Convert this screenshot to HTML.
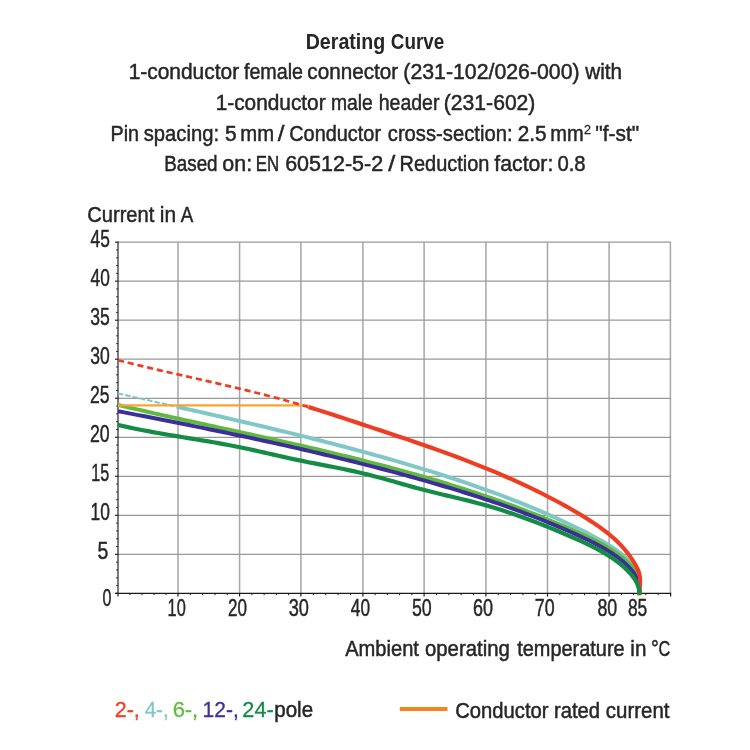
<!DOCTYPE html>
<html><head><meta charset="utf-8"><title>Derating Curve</title>
<style>html,body{margin:0;padding:0;background:#fff}body{width:750px;height:750px;overflow:hidden;font-family:"Liberation Sans",sans-serif}svg{display:block;will-change:transform}</style>
</head><body>
<svg width="750" height="750" viewBox="0 0 750 750">
<rect width="750" height="750" fill="#fff"/>
<g fill="none">
<line x1="178.00" y1="242.15" x2="178.00" y2="593.40" stroke="#a6a6a6" stroke-width="1.5"/>
<line x1="239.60" y1="242.15" x2="239.60" y2="593.40" stroke="#a6a6a6" stroke-width="1.5"/>
<line x1="300.90" y1="242.15" x2="300.90" y2="593.40" stroke="#a6a6a6" stroke-width="1.5"/>
<line x1="362.90" y1="242.15" x2="362.90" y2="593.40" stroke="#a6a6a6" stroke-width="1.5"/>
<line x1="424.10" y1="242.15" x2="424.10" y2="593.40" stroke="#a6a6a6" stroke-width="1.5"/>
<line x1="485.90" y1="242.15" x2="485.90" y2="593.40" stroke="#a6a6a6" stroke-width="1.5"/>
<line x1="547.50" y1="242.15" x2="547.50" y2="593.40" stroke="#a6a6a6" stroke-width="1.5"/>
<line x1="609.10" y1="242.15" x2="609.10" y2="593.40" stroke="#a6a6a6" stroke-width="1.5"/>
<line x1="670.40" y1="242.15" x2="670.40" y2="593.40" stroke="#a6a6a6" stroke-width="1.5"/>
<line x1="117.90" y1="554.37" x2="671.10" y2="554.37" stroke="#999999" stroke-width="1.25"/>
<line x1="117.90" y1="515.34" x2="671.10" y2="515.34" stroke="#999999" stroke-width="1.25"/>
<line x1="117.90" y1="476.32" x2="671.10" y2="476.32" stroke="#999999" stroke-width="1.25"/>
<line x1="117.90" y1="437.29" x2="671.10" y2="437.29" stroke="#999999" stroke-width="1.25"/>
<line x1="117.90" y1="398.26" x2="671.10" y2="398.26" stroke="#999999" stroke-width="1.25"/>
<line x1="117.90" y1="359.23" x2="671.10" y2="359.23" stroke="#999999" stroke-width="1.25"/>
<line x1="117.90" y1="320.21" x2="671.10" y2="320.21" stroke="#999999" stroke-width="1.25"/>
<line x1="117.90" y1="281.18" x2="671.10" y2="281.18" stroke="#999999" stroke-width="1.25"/>
<line x1="117.90" y1="242.15" x2="671.10" y2="242.15" stroke="#999999" stroke-width="1.25"/>
</g>
<line x1="118.0" y1="241.65" x2="118.0" y2="596.6" stroke="#757575" stroke-width="1.9"/>
<g stroke="#2a2a2a" fill="none">
<line x1="115.0" y1="593.40" x2="118.6" y2="593.40" stroke-width="1.2"/>
<line x1="116.0" y1="585.59" x2="118.2" y2="585.59" stroke-width="0.9"/>
<line x1="116.0" y1="577.79" x2="118.2" y2="577.79" stroke-width="0.9"/>
<line x1="116.0" y1="569.98" x2="118.2" y2="569.98" stroke-width="0.9"/>
<line x1="116.0" y1="562.18" x2="118.2" y2="562.18" stroke-width="0.9"/>
<line x1="115.0" y1="554.37" x2="118.6" y2="554.37" stroke-width="1.2"/>
<line x1="116.0" y1="546.57" x2="118.2" y2="546.57" stroke-width="0.9"/>
<line x1="116.0" y1="538.76" x2="118.2" y2="538.76" stroke-width="0.9"/>
<line x1="116.0" y1="530.96" x2="118.2" y2="530.96" stroke-width="0.9"/>
<line x1="116.0" y1="523.15" x2="118.2" y2="523.15" stroke-width="0.9"/>
<line x1="115.0" y1="515.34" x2="118.6" y2="515.34" stroke-width="1.2"/>
<line x1="116.0" y1="507.54" x2="118.2" y2="507.54" stroke-width="0.9"/>
<line x1="116.0" y1="499.73" x2="118.2" y2="499.73" stroke-width="0.9"/>
<line x1="116.0" y1="491.93" x2="118.2" y2="491.93" stroke-width="0.9"/>
<line x1="116.0" y1="484.12" x2="118.2" y2="484.12" stroke-width="0.9"/>
<line x1="115.0" y1="476.32" x2="118.6" y2="476.32" stroke-width="1.2"/>
<line x1="116.0" y1="468.51" x2="118.2" y2="468.51" stroke-width="0.9"/>
<line x1="116.0" y1="460.71" x2="118.2" y2="460.71" stroke-width="0.9"/>
<line x1="116.0" y1="452.90" x2="118.2" y2="452.90" stroke-width="0.9"/>
<line x1="116.0" y1="445.09" x2="118.2" y2="445.09" stroke-width="0.9"/>
<line x1="115.0" y1="437.29" x2="118.6" y2="437.29" stroke-width="1.2"/>
<line x1="116.0" y1="429.48" x2="118.2" y2="429.48" stroke-width="0.9"/>
<line x1="116.0" y1="421.68" x2="118.2" y2="421.68" stroke-width="0.9"/>
<line x1="116.0" y1="413.87" x2="118.2" y2="413.87" stroke-width="0.9"/>
<line x1="116.0" y1="406.07" x2="118.2" y2="406.07" stroke-width="0.9"/>
<line x1="115.0" y1="398.26" x2="118.6" y2="398.26" stroke-width="1.2"/>
<line x1="116.0" y1="390.46" x2="118.2" y2="390.46" stroke-width="0.9"/>
<line x1="116.0" y1="382.65" x2="118.2" y2="382.65" stroke-width="0.9"/>
<line x1="116.0" y1="374.84" x2="118.2" y2="374.84" stroke-width="0.9"/>
<line x1="116.0" y1="367.04" x2="118.2" y2="367.04" stroke-width="0.9"/>
<line x1="115.0" y1="359.23" x2="118.6" y2="359.23" stroke-width="1.2"/>
<line x1="116.0" y1="351.43" x2="118.2" y2="351.43" stroke-width="0.9"/>
<line x1="116.0" y1="343.62" x2="118.2" y2="343.62" stroke-width="0.9"/>
<line x1="116.0" y1="335.82" x2="118.2" y2="335.82" stroke-width="0.9"/>
<line x1="116.0" y1="328.01" x2="118.2" y2="328.01" stroke-width="0.9"/>
<line x1="115.0" y1="320.21" x2="118.6" y2="320.21" stroke-width="1.2"/>
<line x1="116.0" y1="312.40" x2="118.2" y2="312.40" stroke-width="0.9"/>
<line x1="116.0" y1="304.59" x2="118.2" y2="304.59" stroke-width="0.9"/>
<line x1="116.0" y1="296.79" x2="118.2" y2="296.79" stroke-width="0.9"/>
<line x1="116.0" y1="288.98" x2="118.2" y2="288.98" stroke-width="0.9"/>
<line x1="115.0" y1="281.18" x2="118.6" y2="281.18" stroke-width="1.2"/>
<line x1="116.0" y1="273.37" x2="118.2" y2="273.37" stroke-width="0.9"/>
<line x1="116.0" y1="265.57" x2="118.2" y2="265.57" stroke-width="0.9"/>
<line x1="116.0" y1="257.76" x2="118.2" y2="257.76" stroke-width="0.9"/>
<line x1="116.0" y1="249.96" x2="118.2" y2="249.96" stroke-width="0.9"/>
<line x1="115.0" y1="242.15" x2="118.6" y2="242.15" stroke-width="1.2"/>
</g>
<g stroke="#1a1a1a" fill="none">
<line x1="115.2" y1="593.40" x2="671.2" y2="593.40" stroke-width="1.3"/>
<line x1="129.92" y1="593.40" x2="129.92" y2="595.20" stroke-width="1"/>
<line x1="141.94" y1="593.40" x2="141.94" y2="595.20" stroke-width="1"/>
<line x1="153.96" y1="593.40" x2="153.96" y2="595.20" stroke-width="1"/>
<line x1="165.98" y1="593.40" x2="165.98" y2="595.20" stroke-width="1"/>
<line x1="178.00" y1="593.40" x2="178.00" y2="596.60" stroke-width="1.2"/>
<line x1="190.32" y1="593.40" x2="190.32" y2="595.20" stroke-width="1"/>
<line x1="202.64" y1="593.40" x2="202.64" y2="595.20" stroke-width="1"/>
<line x1="214.96" y1="593.40" x2="214.96" y2="595.20" stroke-width="1"/>
<line x1="227.28" y1="593.40" x2="227.28" y2="595.20" stroke-width="1"/>
<line x1="239.60" y1="593.40" x2="239.60" y2="596.60" stroke-width="1.2"/>
<line x1="251.86" y1="593.40" x2="251.86" y2="595.20" stroke-width="1"/>
<line x1="264.12" y1="593.40" x2="264.12" y2="595.20" stroke-width="1"/>
<line x1="276.38" y1="593.40" x2="276.38" y2="595.20" stroke-width="1"/>
<line x1="288.64" y1="593.40" x2="288.64" y2="595.20" stroke-width="1"/>
<line x1="300.90" y1="593.40" x2="300.90" y2="596.60" stroke-width="1.2"/>
<line x1="313.30" y1="593.40" x2="313.30" y2="595.20" stroke-width="1"/>
<line x1="325.70" y1="593.40" x2="325.70" y2="595.20" stroke-width="1"/>
<line x1="338.10" y1="593.40" x2="338.10" y2="595.20" stroke-width="1"/>
<line x1="350.50" y1="593.40" x2="350.50" y2="595.20" stroke-width="1"/>
<line x1="362.90" y1="593.40" x2="362.90" y2="596.60" stroke-width="1.2"/>
<line x1="375.14" y1="593.40" x2="375.14" y2="595.20" stroke-width="1"/>
<line x1="387.38" y1="593.40" x2="387.38" y2="595.20" stroke-width="1"/>
<line x1="399.62" y1="593.40" x2="399.62" y2="595.20" stroke-width="1"/>
<line x1="411.86" y1="593.40" x2="411.86" y2="595.20" stroke-width="1"/>
<line x1="424.10" y1="593.40" x2="424.10" y2="596.60" stroke-width="1.2"/>
<line x1="436.46" y1="593.40" x2="436.46" y2="595.20" stroke-width="1"/>
<line x1="448.82" y1="593.40" x2="448.82" y2="595.20" stroke-width="1"/>
<line x1="461.18" y1="593.40" x2="461.18" y2="595.20" stroke-width="1"/>
<line x1="473.54" y1="593.40" x2="473.54" y2="595.20" stroke-width="1"/>
<line x1="485.90" y1="593.40" x2="485.90" y2="596.60" stroke-width="1.2"/>
<line x1="498.22" y1="593.40" x2="498.22" y2="595.20" stroke-width="1"/>
<line x1="510.54" y1="593.40" x2="510.54" y2="595.20" stroke-width="1"/>
<line x1="522.86" y1="593.40" x2="522.86" y2="595.20" stroke-width="1"/>
<line x1="535.18" y1="593.40" x2="535.18" y2="595.20" stroke-width="1"/>
<line x1="547.50" y1="593.40" x2="547.50" y2="596.60" stroke-width="1.2"/>
<line x1="559.82" y1="593.40" x2="559.82" y2="595.20" stroke-width="1"/>
<line x1="572.14" y1="593.40" x2="572.14" y2="595.20" stroke-width="1"/>
<line x1="584.46" y1="593.40" x2="584.46" y2="595.20" stroke-width="1"/>
<line x1="596.78" y1="593.40" x2="596.78" y2="595.20" stroke-width="1"/>
<line x1="609.10" y1="593.40" x2="609.10" y2="596.60" stroke-width="1.2"/>
<line x1="621.36" y1="593.40" x2="621.36" y2="595.20" stroke-width="1"/>
<line x1="633.62" y1="593.40" x2="633.62" y2="595.20" stroke-width="1"/>
<line x1="645.88" y1="593.40" x2="645.88" y2="595.20" stroke-width="1"/>
<line x1="658.14" y1="593.40" x2="658.14" y2="595.20" stroke-width="1"/>
<line x1="670.60" y1="593.40" x2="670.60" y2="596.60" stroke-width="1.2"/>
</g>
<g fill="none" stroke-linejoin="round">
<path d="M117.88 393.36 L123.00 394.53 L128.11 395.69 L133.23 396.86 L138.34 398.02 L143.46 399.18 L148.58 400.34 L153.69 401.49 L158.81 402.65 L163.93 403.80 L169.04 404.96 L174.16 406.11 L176.50 406.64" stroke="#80c8c7" stroke-width="2" stroke-dasharray="5.5 2"/>
<path d="M176.50 406.64 L179.28 407.27 L184.39 408.43 L189.51 409.59 L194.63 410.74 L199.74 411.90 L204.86 413.07 L209.97 414.23 L215.08 415.40 L220.20 416.57 L225.31 417.74 L230.42 418.92 L235.53 420.10 L240.64 421.28 L245.74 422.47 L250.85 423.67 L255.96 424.86 L261.06 426.07 L266.16 427.28 L271.26 428.49 L276.36 429.71 L281.46 430.94 L286.56 432.17 L291.65 433.41 L296.75 434.66 L301.84 435.92 L306.93 437.18 L312.01 438.45 L317.10 439.73 L322.18 441.02 L327.26 442.32 L332.34 443.63 L337.41 444.94 L342.49 446.27 L347.56 447.61 L352.62 448.96 L357.69 450.32 L362.75 451.69 L367.81 453.07 L372.87 454.46 L377.92 455.86 L382.97 457.28 L388.02 458.71 L393.06 460.16 L398.10 461.61 L403.14 463.08 L408.18 464.57 L413.21 466.06 L418.23 467.58 L423.26 469.10 L428.28 470.64 L433.29 472.20 L438.31 473.78 L443.31 475.37 L448.31 476.98 L453.31 478.60 L458.30 480.25 L463.28 481.91 L468.25 483.60 L473.22 485.30 L478.18 487.03 L483.13 488.78 L488.07 490.55 L493.00 492.34 L497.92 494.16 L502.83 496.00 L507.73 497.87 L512.62 499.76 L517.50 501.68 L522.36 503.62 L527.22 505.60 L532.05 507.60 L536.88 509.63 L541.69 511.69 L546.49 513.78 L551.27 515.90 L556.04 518.05 L560.79 520.24 L565.52 522.45 L570.24 524.70 L574.94 526.98 L579.62 529.30 L584.28 531.65 L588.93 534.05 L593.55 536.49 L598.15 539.00 L602.73 541.59 L607.28 544.26 L611.80 547.03 L612.21 547.29 L612.62 547.56 L613.04 547.82 L613.45 548.09 L613.86 548.36 L614.27 548.63 L614.68 548.90 L615.08 549.17 L615.49 549.44 L615.89 549.72 L616.30 550.00 L616.70 550.28 L617.10 550.56 L617.50 550.84 L617.89 551.13 L618.29 551.41 L618.68 551.70 L619.07 552.00 L619.46 552.29 L619.85 552.59 L620.23 552.88 L620.62 553.18 L621.00 553.49 L621.37 553.79 L621.75 554.10 L622.12 554.41 L622.49 554.72 L622.86 555.04 L623.23 555.36 L623.59 555.68 L623.95 556.00 L624.31 556.33 L624.66 556.66 L625.01 556.99 L625.36 557.33 L625.70 557.67 L626.04 558.01 L626.38 558.35 L626.72 558.70 L627.05 559.05 L627.37 559.41 L627.70 559.77 L628.02 560.13 L628.33 560.49 L628.65 560.86 L628.96 561.23 L629.26 561.61 L629.56 561.98 L629.86 562.36 L630.16 562.75 L630.45 563.13 L630.73 563.52 L631.01 563.91 L631.29 564.31 L631.57 564.71 L631.84 565.11 L632.10 565.51 L632.36 565.92 L632.62 566.32 L632.87 566.74 L633.12 567.15 L633.37 567.57 L633.61 567.99 L633.84 568.41 L634.07 568.83 L634.30 569.26 L634.52 569.69 L634.74 570.12 L634.95 570.55 L635.16 570.99 L635.37 571.43 L635.57 571.87 L635.76 572.31 L635.95 572.76 L636.14 573.21 L636.32 573.66 L636.49 574.11 L636.66 574.56 L636.83 575.02 L636.99 575.48 L637.14 575.94 L637.29 576.40 L637.44 576.86 L637.58 577.33 L637.71 577.80 L637.84 578.27 L637.97 578.74 L638.09 579.21 L638.20 579.68 L638.31 580.16 L638.42 580.64 L638.52 581.11 L638.61 581.59 L638.70 582.07 L638.79 582.55 L638.87 583.03 L638.94 583.52 L639.02 584.00 L639.08 584.48 L639.14 584.97 L639.20 585.45 L639.25 585.94 L639.29 586.43 L639.34 586.91 L639.37 587.40 L639.40 587.89 L639.43 588.38 L639.45 588.86 L639.47 589.35 L639.48 589.84 L639.49 590.33 L639.49 590.82 L639.49 591.30 L639.48 591.79 L639.47 592.28 L639.45 592.76 L639.43 593.25 L639.40 593.74 L639.37 594.22" stroke="#80c8c7" stroke-width="4"/>
<path d="M118.03 404.97 L123.07 406.15 L128.11 407.33 L133.16 408.49 L138.21 409.65 L143.26 410.80 L148.32 411.95 L153.38 413.09 L158.44 414.22 L163.50 415.36 L168.57 416.48 L173.64 417.60 L178.71 418.72 L183.78 419.84 L188.85 420.95 L193.93 422.06 L199.01 423.17 L204.08 424.28 L209.16 425.39 L214.24 426.49 L219.32 427.60 L224.40 428.70 L229.48 429.81 L234.56 430.91 L239.65 432.02 L244.73 433.13 L249.81 434.24 L254.89 435.36 L259.97 436.48 L265.05 437.60 L270.13 438.72 L275.21 439.85 L280.29 440.98 L285.37 442.12 L290.44 443.26 L295.52 444.41 L300.59 445.57 L305.66 446.73 L310.73 447.89 L315.79 449.07 L320.86 450.25 L325.92 451.45 L330.98 452.65 L336.04 453.85 L341.10 455.07 L346.15 456.30 L351.20 457.54 L356.24 458.79 L361.28 460.05 L366.32 461.32 L371.36 462.60 L376.39 463.90 L381.42 465.20 L386.44 466.52 L391.46 467.86 L396.48 469.21 L401.49 470.57 L406.50 471.94 L411.50 473.34 L416.50 474.74 L421.49 476.17 L426.47 477.60 L431.46 479.06 L436.43 480.53 L441.40 482.02 L446.37 483.53 L451.33 485.05 L456.28 486.60 L461.23 488.16 L466.17 489.75 L471.10 491.35 L476.03 492.97 L480.95 494.61 L485.86 496.28 L490.77 497.97 L495.67 499.67 L500.56 501.40 L505.45 503.16 L510.32 504.93 L515.19 506.73 L520.05 508.55 L524.91 510.40 L529.75 512.27 L534.59 514.17 L539.42 516.09 L544.24 518.04 L549.05 520.01 L553.85 522.02 L558.64 524.04 L563.43 526.10 L568.20 528.18 L572.97 530.30 L577.72 532.44 L582.47 534.61 L587.20 536.81 L591.91 539.06 L596.57 541.39 L601.18 543.81 L605.71 546.34 L610.16 549.00 L610.56 549.25 L610.97 549.51 L611.37 549.76 L611.77 550.02 L612.17 550.28 L612.58 550.54 L612.97 550.80 L613.37 551.07 L613.77 551.33 L614.17 551.60 L614.56 551.87 L614.96 552.14 L615.35 552.41 L615.75 552.68 L616.14 552.95 L616.53 553.23 L616.92 553.50 L617.31 553.78 L617.69 554.06 L618.08 554.35 L618.46 554.63 L618.85 554.91 L619.23 555.20 L619.61 555.49 L619.99 555.78 L620.37 556.07 L620.75 556.37 L621.12 556.66 L621.50 556.96 L621.87 557.26 L622.25 557.56 L622.62 557.86 L622.99 558.17 L623.36 558.47 L623.72 558.78 L624.09 559.09 L624.45 559.40 L624.82 559.72 L625.18 560.03 L625.54 560.35 L625.90 560.67 L626.26 560.99 L626.61 561.32 L626.97 561.64 L627.32 561.97 L627.67 562.30 L628.02 562.63 L628.37 562.97 L628.72 563.30 L629.06 563.64 L629.40 563.98 L629.74 564.33 L630.08 564.68 L630.41 565.03 L630.73 565.38 L631.05 565.74 L631.37 566.10 L631.68 566.47 L631.99 566.84 L632.28 567.22 L632.57 567.60 L632.86 567.98 L633.13 568.37 L633.40 568.77 L633.66 569.17 L633.91 569.58 L634.16 569.99 L634.39 570.41 L634.62 570.83 L634.84 571.26 L635.05 571.69 L635.25 572.13 L635.45 572.57 L635.64 573.01 L635.83 573.46 L636.00 573.91 L636.18 574.36 L636.34 574.82 L636.50 575.28 L636.66 575.74 L636.81 576.20 L636.96 576.66 L637.10 577.12 L637.24 577.59 L637.38 578.05 L637.51 578.52 L637.64 578.98 L637.76 579.45 L637.88 579.92 L638.00 580.39 L638.11 580.85 L638.22 581.32 L638.32 581.79 L638.42 582.26 L638.52 582.73 L638.61 583.21 L638.69 583.68 L638.78 584.15 L638.85 584.62 L638.93 585.10 L639.00 585.57 L639.06 586.05 L639.12 586.52 L639.18 587.00 L639.23 587.47 L639.27 587.95 L639.31 588.43 L639.35 588.91 L639.38 589.39 L639.40 589.86 L639.42 590.34 L639.44 590.82 L639.45 591.30 L639.46 591.79 L639.46 592.27 L639.45 592.75 L639.44 593.23 L639.42 593.71 L639.40 594.20" stroke="#5fbb3f" stroke-width="4"/>
<path d="M117.96 411.18 L123.01 412.15 L128.07 413.13 L133.12 414.11 L138.18 415.09 L143.24 416.07 L148.30 417.06 L153.35 418.05 L158.41 419.04 L163.47 420.04 L168.53 421.04 L173.59 422.04 L178.65 423.05 L183.71 424.06 L188.77 425.07 L193.83 426.09 L198.89 427.12 L203.95 428.15 L209.01 429.18 L214.07 430.22 L219.13 431.26 L224.19 432.31 L229.24 433.37 L234.30 434.43 L239.35 435.50 L244.41 436.57 L249.46 437.65 L254.51 438.73 L259.56 439.83 L264.61 440.93 L269.66 442.03 L274.70 443.14 L279.75 444.26 L284.79 445.39 L289.83 446.53 L294.87 447.67 L299.91 448.82 L304.94 449.98 L309.98 451.15 L315.01 452.33 L320.04 453.51 L325.06 454.70 L330.09 455.91 L335.11 457.12 L340.12 458.34 L345.14 459.57 L350.15 460.81 L355.16 462.06 L360.17 463.32 L365.17 464.59 L370.17 465.87 L375.17 467.17 L380.16 468.47 L385.15 469.78 L390.14 471.11 L395.12 472.44 L400.10 473.79 L405.08 475.15 L410.05 476.52 L415.02 477.90 L419.98 479.30 L424.94 480.70 L429.89 482.12 L434.84 483.56 L439.79 485.00 L444.73 486.47 L449.66 487.94 L454.59 489.44 L459.52 490.95 L464.44 492.47 L469.35 494.02 L474.26 495.59 L479.16 497.17 L484.05 498.78 L488.94 500.40 L493.82 502.05 L498.69 503.73 L503.56 505.42 L508.42 507.14 L513.27 508.89 L518.11 510.66 L522.94 512.45 L527.77 514.28 L532.59 516.13 L537.40 518.01 L542.20 519.92 L546.99 521.86 L551.77 523.83 L556.54 525.83 L561.30 527.86 L566.05 529.93 L570.79 532.03 L575.52 534.16 L580.24 536.33 L584.95 538.54 L589.64 540.79 L594.29 543.11 L598.89 545.52 L603.41 548.02 L607.85 550.66 L608.26 550.91 L608.66 551.16 L609.06 551.41 L609.47 551.67 L609.87 551.92 L610.27 552.18 L610.67 552.44 L611.07 552.70 L611.46 552.96 L611.86 553.22 L612.26 553.48 L612.65 553.75 L613.04 554.01 L613.44 554.28 L613.83 554.55 L614.22 554.82 L614.61 555.09 L614.99 555.37 L615.38 555.64 L615.77 555.92 L616.15 556.19 L616.54 556.47 L616.92 556.76 L617.30 557.04 L617.68 557.32 L618.06 557.61 L618.43 557.90 L618.81 558.18 L619.19 558.48 L619.56 558.77 L619.93 559.06 L620.30 559.36 L620.67 559.66 L621.04 559.95 L621.41 560.26 L621.77 560.56 L622.14 560.86 L622.50 561.17 L622.86 561.48 L623.22 561.79 L623.58 562.10 L623.94 562.41 L624.29 562.73 L624.65 563.04 L625.00 563.36 L625.35 563.68 L625.70 564.01 L626.05 564.33 L626.40 564.66 L626.74 564.99 L627.08 565.32 L627.43 565.65 L627.77 565.99 L628.11 566.32 L628.44 566.66 L628.78 567.00 L629.11 567.35 L629.44 567.69 L629.77 568.04 L630.09 568.39 L630.42 568.75 L630.73 569.10 L631.05 569.46 L631.36 569.82 L631.67 570.19 L631.97 570.56 L632.27 570.93 L632.56 571.30 L632.85 571.68 L633.13 572.06 L633.41 572.45 L633.68 572.84 L633.95 573.23 L634.21 573.63 L634.46 574.03 L634.71 574.44 L634.95 574.84 L635.19 575.26 L635.41 575.67 L635.63 576.09 L635.85 576.52 L636.06 576.95 L636.26 577.38 L636.45 577.81 L636.64 578.25 L636.82 578.69 L637.00 579.13 L637.17 579.58 L637.33 580.03 L637.48 580.48 L637.63 580.94 L637.77 581.40 L637.91 581.86 L638.04 582.32 L638.16 582.79 L638.28 583.25 L638.39 583.72 L638.49 584.19 L638.59 584.67 L638.68 585.14 L638.76 585.62 L638.84 586.09 L638.92 586.57 L638.99 587.05 L639.05 587.53 L639.10 588.01 L639.16 588.49 L639.20 588.97 L639.24 589.45 L639.28 589.92 L639.31 590.40 L639.34 590.88 L639.36 591.36 L639.37 591.84 L639.38 592.32 L639.39 592.79 L639.39 593.27 L639.39 593.74 L639.38 594.21" stroke="#3c2f9a" stroke-width="4"/>
<line x1="117.9" y1="405.4" x2="308.2" y2="405.4" stroke="#f6a533" stroke-width="2.2"/>
<path d="M117.93 360.20 L123.17 361.52 L128.42 362.81 L133.68 364.09 L138.94 365.36 L144.20 366.61 L149.47 367.86 L154.75 369.09 L160.03 370.31 L165.31 371.53 L170.59 372.74 L175.88 373.95 L181.17 375.15 L186.46 376.35 L191.75 377.55 L197.04 378.75 L202.33 379.96 L207.62 381.17 L212.91 382.38 L218.20 383.60 L223.48 384.83 L228.76 386.07 L234.04 387.32 L239.32 388.58 L244.59 389.85 L249.86 391.14 L255.12 392.45 L260.38 393.77 L265.63 395.11 L270.87 396.48 L276.11 397.86 L281.33 399.27 L286.55 400.71 L291.77 402.17 L296.97 403.65 L302.16 405.17 L307.35 406.72 L308.50 407.07" stroke="#ee3d23" stroke-width="2.7" stroke-dasharray="6.2 3.8"/>
<path d="M308.50 407.07 L312.52 408.29 L317.69 409.88 L322.85 411.50 L328.00 413.14 L333.15 414.80 L338.30 416.47 L343.44 418.15 L348.58 419.84 L353.72 421.53 L358.87 423.24 L364.01 424.94 L369.15 426.64 L374.30 428.35 L379.45 430.06 L384.59 431.77 L389.74 433.49 L394.88 435.21 L400.03 436.94 L405.17 438.68 L410.31 440.43 L415.44 442.19 L420.57 443.96 L425.70 445.74 L430.82 447.54 L435.94 449.36 L441.05 451.19 L446.15 453.03 L451.24 454.90 L456.33 456.79 L461.40 458.69 L466.47 460.62 L471.52 462.58 L476.57 464.55 L481.60 466.56 L486.63 468.59 L491.64 470.64 L496.63 472.73 L501.61 474.85 L506.58 477.00 L511.54 479.18 L516.47 481.40 L521.39 483.65 L526.30 485.93 L531.18 488.26 L536.05 490.62 L540.90 493.02 L545.73 495.46 L550.54 497.95 L555.33 500.48 L560.10 503.05 L564.85 505.66 L569.57 508.33 L574.28 511.04 L578.95 513.80 L583.61 516.61 L588.23 519.48 L592.81 522.41 L597.31 525.44 L601.74 528.58 L606.07 531.83 L610.27 535.23 L614.34 538.78 L618.25 542.50 L618.60 542.86 L618.95 543.21 L619.30 543.57 L619.65 543.93 L620.00 544.29 L620.34 544.65 L620.69 545.01 L621.03 545.38 L621.37 545.75 L621.71 546.11 L622.05 546.48 L622.38 546.86 L622.72 547.23 L623.05 547.60 L623.38 547.98 L623.71 548.36 L624.04 548.74 L624.36 549.12 L624.69 549.50 L625.01 549.88 L625.33 550.27 L625.65 550.66 L625.97 551.04 L626.28 551.44 L626.60 551.83 L626.91 552.22 L627.22 552.61 L627.53 553.01 L627.84 553.41 L628.14 553.81 L628.45 554.21 L628.75 554.61 L629.05 555.02 L629.34 555.42 L629.64 555.83 L629.93 556.24 L630.23 556.65 L630.52 557.06 L630.81 557.47 L631.09 557.89 L631.38 558.30 L631.66 558.72 L631.94 559.14 L632.22 559.56 L632.50 559.98 L632.77 560.40 L633.04 560.83 L633.32 561.25 L633.58 561.68 L633.85 562.11 L634.12 562.54 L634.38 562.97 L634.64 563.41 L634.89 563.84 L635.15 564.28 L635.40 564.72 L635.64 565.15 L635.89 565.60 L636.12 566.04 L636.36 566.48 L636.59 566.93 L636.81 567.38 L637.03 567.83 L637.24 568.28 L637.45 568.73 L637.65 569.19 L637.85 569.64 L638.04 570.10 L638.22 570.56 L638.40 571.03 L638.57 571.49 L638.73 571.96 L638.88 572.43 L639.03 572.90 L639.17 573.37 L639.30 573.84 L639.42 574.32 L639.53 574.80 L639.64 575.28 L639.73 575.76 L639.82 576.25 L639.89 576.73 L639.96 577.22 L640.01 577.71 L640.06 578.21 L640.09 578.70 L640.12 579.20 L640.13 579.70 L640.14 580.20 L640.14 580.71 L640.13 581.21 L640.12 581.72 L640.10 582.22 L640.07 582.73 L640.04 583.24 L640.01 583.75 L639.97 584.26 L639.93 584.77 L639.89 585.28 L639.84 585.79 L639.79 586.30 L639.75 586.81 L639.70 587.32 L639.66 587.83 L639.61 588.34 L639.57 588.85 L639.53 589.35 L639.49 589.86 L639.46 590.36 L639.43 590.87 L639.40 591.37 L639.39 591.87 L639.37 592.36 L639.37 592.86 L639.37 593.35 L639.38 593.85 L639.40 594.33 L639.43 594.82 L639.46 595.30" stroke="#ee3d23" stroke-width="4.1"/>
<path d="M117.90 424.90 L122.88 426.04 L127.87 427.14 L132.86 428.20 L137.87 429.22 L142.88 430.20 L147.90 431.15 L152.92 432.08 L157.95 432.98 L162.98 433.86 L168.01 434.72 L173.05 435.57 L178.09 436.41 L183.13 437.24 L188.17 438.08 L193.21 438.91 L198.25 439.74 L203.29 440.58 L208.32 441.43 L213.35 442.30 L218.38 443.19 L223.41 444.09 L228.43 445.02 L233.44 445.98 L238.45 446.97 L243.45 448.00 L248.44 449.06 L253.43 450.14 L258.42 451.25 L263.40 452.36 L268.38 453.49 L273.36 454.62 L278.34 455.76 L283.32 456.88 L288.31 457.99 L293.30 459.08 L298.29 460.14 L303.30 461.18 L308.30 462.19 L313.32 463.17 L318.33 464.14 L323.35 465.11 L328.36 466.07 L333.38 467.04 L338.39 468.02 L343.40 469.03 L348.40 470.07 L353.39 471.14 L358.37 472.25 L363.34 473.42 L368.29 474.64 L373.24 475.91 L378.17 477.23 L383.10 478.57 L388.02 479.94 L392.94 481.33 L397.85 482.72 L402.77 484.12 L407.68 485.51 L412.60 486.88 L417.53 488.23 L422.46 489.55 L427.40 490.83 L432.35 492.07 L437.30 493.28 L442.26 494.47 L447.22 495.65 L452.19 496.83 L457.15 498.01 L462.12 499.20 L467.08 500.41 L472.03 501.65 L476.98 502.93 L481.92 504.25 L486.85 505.62 L491.77 507.05 L496.68 508.54 L501.57 510.07 L506.45 511.66 L511.31 513.29 L516.16 514.97 L521.00 516.69 L525.81 518.44 L530.61 520.23 L535.38 522.04 L540.14 523.89 L544.88 525.76 L549.59 527.65 L554.28 529.56 L558.95 531.49 L563.61 533.46 L568.26 535.46 L572.90 537.49 L577.53 539.57 L582.16 541.70 L586.79 543.88 L591.40 546.12 L595.98 548.46 L600.50 550.89 L604.95 553.44 L605.36 553.68 L605.77 553.93 L606.17 554.17 L606.58 554.42 L606.98 554.67 L607.38 554.92 L607.79 555.16 L608.19 555.42 L608.59 555.67 L608.99 555.92 L609.39 556.18 L609.78 556.43 L610.18 556.69 L610.58 556.95 L610.97 557.21 L611.37 557.47 L611.76 557.73 L612.15 558.00 L612.54 558.26 L612.93 558.53 L613.32 558.80 L613.71 559.07 L614.09 559.34 L614.48 559.61 L614.86 559.89 L615.24 560.17 L615.63 560.44 L616.01 560.72 L616.39 561.00 L616.77 561.28 L617.14 561.57 L617.52 561.85 L617.89 562.14 L618.27 562.43 L618.64 562.72 L619.01 563.01 L619.38 563.30 L619.75 563.60 L620.11 563.90 L620.48 564.19 L620.84 564.49 L621.21 564.80 L621.57 565.10 L621.93 565.40 L622.29 565.71 L622.64 566.02 L623.00 566.33 L623.35 566.64 L623.71 566.96 L624.06 567.27 L624.41 567.59 L624.76 567.91 L625.10 568.23 L625.45 568.55 L625.79 568.88 L626.13 569.21 L626.48 569.54 L626.81 569.87 L627.15 570.20 L627.49 570.53 L627.82 570.87 L628.15 571.21 L628.48 571.55 L628.81 571.89 L629.14 572.24 L629.46 572.59 L629.78 572.94 L630.10 573.29 L630.42 573.64 L630.73 574.00 L631.04 574.36 L631.34 574.72 L631.65 575.08 L631.95 575.45 L632.24 575.81 L632.53 576.18 L632.82 576.56 L633.11 576.93 L633.39 577.31 L633.66 577.69 L633.93 578.07 L634.20 578.46 L634.46 578.85 L634.71 579.24 L634.97 579.63 L635.21 580.03 L635.45 580.43 L635.69 580.83 L635.92 581.24 L636.14 581.65 L636.36 582.06 L636.57 582.47 L636.78 582.89 L636.98 583.31 L637.17 583.73 L637.36 584.16 L637.54 584.59 L637.71 585.02 L637.88 585.46 L638.04 585.90 L638.19 586.34 L638.33 586.79 L638.47 587.24 L638.60 587.69 L638.72 588.14 L638.83 588.60 L638.94 589.07 L639.03 589.53 L639.12 590.00 L639.20 590.47 L639.27 590.95 L639.33 591.43 L639.39 591.91 L639.43 592.39 L639.47 592.88 L639.49 593.38 L639.51 593.87 L639.51 594.37 L639.51 594.87" stroke="#148c46" stroke-width="4.2"/>
</g>
<g font-family="'Liberation Sans', sans-serif" xml:space="preserve" style="font-kerning:none">
<text transform="translate(305.69 48.50) scale(0.9088 1)" font-size="21.60" font-weight="bold" fill="#262626" stroke="#262626" stroke-width="0.00" >Derating</text>
<text transform="translate(390.83 48.50) scale(0.8725 1)" font-size="21.60" font-weight="bold" fill="#262626" stroke="#262626" stroke-width="0.00" >Curve</text>
<text transform="translate(128.64 79.40) scale(0.9176 1)" font-size="22.80" font-weight="normal" fill="#262626" stroke="#262626" stroke-width="0.50" >1-conductor</text>
<text transform="translate(243.94 79.40) scale(0.8639 1)" font-size="22.80" font-weight="normal" fill="#262626" stroke="#262626" stroke-width="0.50" >female</text>
<text transform="translate(307.35 79.40) scale(0.9065 1)" font-size="22.80" font-weight="normal" fill="#262626" stroke="#262626" stroke-width="0.50" >connector</text>
<text transform="translate(403.31 79.40) scale(0.9338 1)" font-size="22.80" font-weight="normal" fill="#262626" stroke="#262626" stroke-width="0.50" >(231-102/026-000)</text>
<text transform="translate(585.26 79.40) scale(0.9091 1)" font-size="22.80" font-weight="normal" fill="#262626" stroke="#262626" stroke-width="0.50" >with</text>
<text transform="translate(215.64 110.00) scale(0.9142 1)" font-size="22.80" font-weight="normal" fill="#262626" stroke="#262626" stroke-width="0.50" >1-conductor</text>
<text transform="translate(330.93 110.00) scale(0.8482 1)" font-size="22.80" font-weight="normal" fill="#262626" stroke="#262626" stroke-width="0.50" >male</text>
<text transform="translate(378.66 110.00) scale(0.8571 1)" font-size="22.80" font-weight="normal" fill="#262626" stroke="#262626" stroke-width="0.50" >header</text>
<text transform="translate(443.82 110.00) scale(0.9271 1)" font-size="22.80" font-weight="normal" fill="#262626" stroke="#262626" stroke-width="0.50" >(231-602)</text>
<text transform="translate(110.60 141.00) scale(0.8637 1)" font-size="22.80" font-weight="normal" fill="#262626" stroke="#262626" stroke-width="0.50" >Pin</text>
<text transform="translate(143.66 141.00) scale(0.8875 1)" font-size="22.80" font-weight="normal" fill="#262626" stroke="#262626" stroke-width="0.50" >spacing:</text>
<text transform="translate(224.99 141.00) scale(0.9194 1)" font-size="22.80" font-weight="normal" fill="#262626" stroke="#262626" stroke-width="0.50" >5</text>
<text transform="translate(240.27 141.00) scale(0.8909 1)" font-size="22.80" font-weight="normal" fill="#262626" stroke="#262626" stroke-width="0.50" >mm</text>
<text transform="translate(277.66 141.00) scale(1.0531 1)" font-size="22.80" font-weight="normal" fill="#262626" stroke="#262626" stroke-width="0.50" >/</text>
<text transform="translate(289.21 141.00) scale(0.8737 1)" font-size="22.80" font-weight="normal" fill="#262626" stroke="#262626" stroke-width="0.50" >Conductor</text>
<text transform="translate(387.76 141.00) scale(0.8878 1)" font-size="22.80" font-weight="normal" fill="#262626" stroke="#262626" stroke-width="0.50" >cross-section:</text>
<text transform="translate(517.78 141.00) scale(0.9105 1)" font-size="22.80" font-weight="normal" fill="#262626" stroke="#262626" stroke-width="0.50" >2.5</text>
<text transform="translate(550.29 141.00) scale(0.8796 1)" font-size="22.80" font-weight="normal" fill="#262626" stroke="#262626" stroke-width="0.50" >mm</text>
<text transform="translate(595.34 141.00) scale(0.9178 1)" font-size="22.80" font-weight="normal" fill="#262626" stroke="#262626" stroke-width="0.50" >&quot;f-st&quot;</text>
<text transform="translate(584.11 133.80) scale(0.9368 1)" font-size="13.40" font-weight="normal" fill="#262626" stroke="#262626" stroke-width="0.30" >2</text>
<text transform="translate(164.26 171.30) scale(0.8251 1)" font-size="22.80" font-weight="normal" fill="#262626" stroke="#262626" stroke-width="0.50" >Based</text>
<text transform="translate(222.34 171.30) scale(0.9397 1)" font-size="22.80" font-weight="normal" fill="#262626" stroke="#262626" stroke-width="0.50" >on:</text>
<text transform="translate(255.80 171.30) scale(0.7383 1)" font-size="22.80" font-weight="normal" fill="#262626" stroke="#262626" stroke-width="0.50" >EN</text>
<text transform="translate(285.14 171.30) scale(0.9438 1)" font-size="22.80" font-weight="normal" fill="#262626" stroke="#262626" stroke-width="0.50" >60512-5-2</text>
<text transform="translate(388.28 171.30) scale(1.1116 1)" font-size="22.80" font-weight="normal" fill="#262626" stroke="#262626" stroke-width="0.50" >/</text>
<text transform="translate(399.58 171.30) scale(0.8756 1)" font-size="22.80" font-weight="normal" fill="#262626" stroke="#262626" stroke-width="0.50" >Reduction</text>
<text transform="translate(494.33 171.30) scale(0.9308 1)" font-size="22.80" font-weight="normal" fill="#262626" stroke="#262626" stroke-width="0.50" >factor:</text>
<text transform="translate(557.43 171.30) scale(0.8906 1)" font-size="22.80" font-weight="normal" fill="#262626" stroke="#262626" stroke-width="0.50" >0.8</text>
<text transform="translate(87.20 221.70) scale(0.8829 1)" font-size="22.80" font-weight="normal" fill="#262626" stroke="#262626" stroke-width="0.50" >Current</text>
<text transform="translate(159.83 221.70) scale(0.9185 1)" font-size="22.80" font-weight="normal" fill="#262626" stroke="#262626" stroke-width="0.50" >in</text>
<text transform="translate(180.77 221.70) scale(0.8194 1)" font-size="22.80" font-weight="normal" fill="#262626" stroke="#262626" stroke-width="0.50" >A</text>
<text transform="translate(90.57 247.05) scale(0.7412 1)" font-size="23.40" font-weight="normal" fill="#262626" stroke="#262626" stroke-width="0.45" >45</text>
<text transform="translate(90.57 286.08) scale(0.7392 1)" font-size="23.40" font-weight="normal" fill="#262626" stroke="#262626" stroke-width="0.45" >40</text>
<text transform="translate(90.20 325.11) scale(0.7519 1)" font-size="23.40" font-weight="normal" fill="#262626" stroke="#262626" stroke-width="0.45" >35</text>
<text transform="translate(90.20 364.13) scale(0.7498 1)" font-size="23.40" font-weight="normal" fill="#262626" stroke="#262626" stroke-width="0.45" >30</text>
<text transform="translate(89.98 403.16) scale(0.7525 1)" font-size="23.40" font-weight="normal" fill="#262626" stroke="#262626" stroke-width="0.45" >25</text>
<text transform="translate(89.98 442.19) scale(0.7586 1)" font-size="23.40" font-weight="normal" fill="#262626" stroke="#262626" stroke-width="0.45" >20</text>
<text transform="translate(91.32 481.22) scale(0.6916 1)" font-size="23.40" font-weight="normal" fill="#262626" stroke="#262626" stroke-width="0.45" >15</text>
<text transform="translate(90.54 520.24) scale(0.7443 1)" font-size="23.40" font-weight="normal" fill="#262626" stroke="#262626" stroke-width="0.45" >10</text>
<text transform="translate(97.51 559.27) scale(0.8316 1)" font-size="23.40" font-weight="normal" fill="#262626" stroke="#262626" stroke-width="0.45" >5</text>
<text transform="translate(102.43 605.50) scale(0.6875 1)" font-size="23.40" font-weight="normal" fill="#262626" stroke="#262626" stroke-width="0.45" >0</text>
<text transform="translate(167.61 616.00) scale(0.6980 1)" font-size="23.40" font-weight="normal" fill="#262626" stroke="#262626" stroke-width="0.45" >10</text>
<text transform="translate(228.01 616.00) scale(0.7299 1)" font-size="23.40" font-weight="normal" fill="#262626" stroke="#262626" stroke-width="0.45" >20</text>
<text transform="translate(288.68 616.00) scale(0.7782 1)" font-size="23.40" font-weight="normal" fill="#262626" stroke="#262626" stroke-width="0.45" >30</text>
<text transform="translate(350.87 616.00) scale(0.7392 1)" font-size="23.40" font-weight="normal" fill="#262626" stroke="#262626" stroke-width="0.45" >40</text>
<text transform="translate(411.96 616.00) scale(0.7593 1)" font-size="23.40" font-weight="normal" fill="#262626" stroke="#262626" stroke-width="0.45" >50</text>
<text transform="translate(473.06 616.00) scale(0.7713 1)" font-size="23.40" font-weight="normal" fill="#262626" stroke="#262626" stroke-width="0.45" >60</text>
<text transform="translate(534.86 616.00) scale(0.7593 1)" font-size="23.40" font-weight="normal" fill="#262626" stroke="#262626" stroke-width="0.45" >70</text>
<text transform="translate(597.40 616.00) scale(0.7618 1)" font-size="23.40" font-weight="normal" fill="#262626" stroke="#262626" stroke-width="0.45" >80</text>
<text transform="translate(627.91 616.00) scale(0.7435 1)" font-size="23.40" font-weight="normal" fill="#262626" stroke="#262626" stroke-width="0.45" >85</text>
<text transform="translate(345.18 655.90) scale(0.8817 1)" font-size="22.80" font-weight="normal" fill="#262626" stroke="#262626" stroke-width="0.50" >Ambient</text>
<text transform="translate(424.97 655.90) scale(0.8932 1)" font-size="22.80" font-weight="normal" fill="#262626" stroke="#262626" stroke-width="0.50" >operating</text>
<text transform="translate(517.22 655.90) scale(0.8741 1)" font-size="22.80" font-weight="normal" fill="#262626" stroke="#262626" stroke-width="0.50" >temperature</text>
<text transform="translate(630.35 655.90) scale(0.9054 1)" font-size="22.80" font-weight="normal" fill="#262626" stroke="#262626" stroke-width="0.50" >in</text>
<text transform="translate(651.05 655.90) scale(0.8560 1)" font-size="22.80" font-weight="normal" fill="#262626" stroke="#262626" stroke-width="0.50" >°</text>
<text transform="translate(658.55 655.90) scale(0.7161 1)" font-size="22.80" font-weight="normal" fill="#262626" stroke="#262626" stroke-width="0.50" >C</text>
<text transform="translate(114.66 716.60) scale(0.9447 1)" font-size="22.80" font-weight="normal" fill="#ee3d23" stroke="#ee3d23" stroke-width="0.30" >2-,</text>
<text transform="translate(144.66 716.60) scale(0.9040 1)" font-size="22.80" font-weight="normal" fill="#80c8c7" stroke="#80c8c7" stroke-width="0.30" >4-,</text>
<text transform="translate(172.63 716.60) scale(0.9620 1)" font-size="22.80" font-weight="normal" fill="#5fbb3f" stroke="#5fbb3f" stroke-width="0.30" >6-,</text>
<text transform="translate(202.54 716.60) scale(0.9217 1)" font-size="22.80" font-weight="normal" fill="#3c2f9a" stroke="#3c2f9a" stroke-width="0.30" >12-,</text>
<text transform="translate(242.35 716.60) scale(0.9520 1)" font-size="22.80" font-weight="normal" fill="#148c46" stroke="#148c46" stroke-width="0.30" >24-</text>
<text transform="translate(274.20 716.60) scale(0.9021 1)" font-size="22.80" font-weight="normal" fill="#262626" stroke="#262626" stroke-width="0.50" >pole</text>
<text transform="translate(455.20 717.50) scale(0.8871 1)" font-size="22.80" font-weight="normal" fill="#262626" stroke="#262626" stroke-width="0.50" >Conductor</text>
<text transform="translate(553.88 717.50) scale(0.8891 1)" font-size="22.80" font-weight="normal" fill="#262626" stroke="#262626" stroke-width="0.50" >rated</text>
<text transform="translate(605.76 717.50) scale(0.8987 1)" font-size="22.80" font-weight="normal" fill="#262626" stroke="#262626" stroke-width="0.50" >current</text>
</g>
<line x1="399.8" y1="708.9" x2="447.4" y2="708.9" stroke="#f5831f" stroke-width="4"/>
</svg>
</body></html>
